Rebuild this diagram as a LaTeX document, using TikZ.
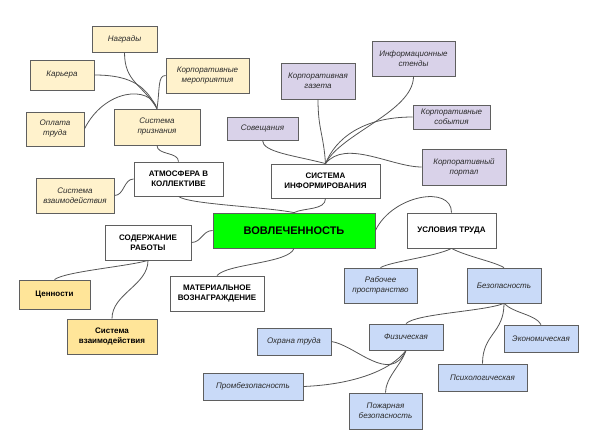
\documentclass[tikz,border=0pt]{standalone}
\usepackage{fontspec}
\setmainfont{Liberation Sans}
\begin{document}
\begin{tikzpicture}[x=1pt,y=-1pt,
  base/.style={draw=bordc, line width=0.8pt, inner sep=0pt, align=center},
  it/.style={base, font=\fontsize{8}{10}\selectfont\itshape, text=txtc},
  ylw/.style={it, fill=ylwc},
  prp/.style={it, fill=prpc},
  blu/.style={it, fill=bluc},
  mainbox/.style={base, fill=white, font=\fontsize{8}{10}\selectfont\bfseries},
  ybold/.style={base, fill=ydarkc, font=\fontsize{8}{10}\selectfont\bfseries},
  conn/.style={draw=linec, line width=0.8pt}
]
\definecolor{bordc}{HTML}{5F5F5F}
\definecolor{linec}{HTML}{555555}
\definecolor{txtc}{HTML}{2A2A2A}
\definecolor{ylwc}{HTML}{FFF2CC}
\definecolor{ydarkc}{HTML}{FFE599}
\definecolor{prpc}{HTML}{D9D2E9}
\definecolor{bluc}{HTML}{C9DAF8}
\definecolor{grnc}{HTML}{00FF00}
\useasboundingbox (0,0) rectangle (591,443);

% yellow (light)
\node[ylw, minimum width=65pt, minimum height=26pt] (nagr) at (124.5,39) {Награды};
\node[ylw, minimum width=64pt, minimum height=30pt] (kar) at (62,75) {Карьера};
\node[ylw, minimum width=83pt, minimum height=35pt] (korpm) at (207.5,75.5) {Корпоративные\\мероприятия};
\node[ylw, minimum width=58pt, minimum height=34pt] (opl) at (55,129) {Оплата\\труда};
\node[ylw, minimum width=86pt, minimum height=36pt] (sysp) at (157,127) {Система\\признания};
\node[ylw, minimum width=78pt, minimum height=35pt] (sysvza) at (75,195.5) {Система\\взаимодействия};

% purple
\node[prp, minimum width=71pt, minimum height=23pt] (sov) at (262.5,128.5) {Совещания};
\node[prp, minimum width=74pt, minimum height=36pt] (gaz) at (318,81) {Корпоративная\\газета};
\node[prp, minimum width=83pt, minimum height=35pt] (sten) at (413.5,58.5) {Информационные\\стенды};
\node[prp, minimum width=77pt, minimum height=24pt] (sob) at (451.5,117) {Корпоративные\\события};
\node[prp, minimum width=84pt, minimum height=36pt] (port) at (464,167) {Корпоративный\\портал};

% main white
\node[mainbox, minimum width=89pt, minimum height=34pt] (atm) at (178.5,179) {АТМОСФЕРА В\\КОЛЛЕКТИВЕ};
\node[mainbox, minimum width=109pt, minimum height=34pt] (sinf) at (325.5,181) {СИСТЕМА\\ИНФОРМИРОВАНИЯ};
\node[mainbox, minimum width=86pt, minimum height=35pt] (sod) at (148,242.5) {СОДЕРЖАНИЕ\\РАБОТЫ};
\node[mainbox, minimum width=94pt, minimum height=35pt] (mat) at (217,293.5) {МАТЕРИАЛЬНОЕ\\ВОЗНАГРАЖДЕНИЕ};
\node[mainbox, minimum width=89pt, minimum height=35pt] (usl) at (451.5,230.5) {УСЛОВИЯ ТРУДА};

% center
\node[base, fill=grnc, minimum width=162pt, minimum height=35pt, font=\fontsize{11}{13}\selectfont\bfseries] (grn) at (294,230.5) {ВОВЛЕЧЕННОСТЬ};

% yellow (dark)
\node[ybold, minimum width=71pt, minimum height=29pt] (cen) at (54.5,294.5) {Ценности};
\node[ybold, minimum width=90pt, minimum height=35pt] (sysvzb) at (112,336.5) {Система\\взаимодействия};

% blue
\node[blu, minimum width=73pt, minimum height=35pt] (rab) at (380.5,285.5) {Рабочее\\пространство};
\node[blu, minimum width=74pt, minimum height=35pt] (bez) at (504,285.5) {Безопасность};
\node[blu, minimum width=74pt, minimum height=26pt] (fiz) at (406,337) {Физическая};
\node[blu, minimum width=74pt, minimum height=27pt] (eko) at (541,338.5) {Экономическая};
\node[blu, minimum width=74pt, minimum height=27pt] (okh) at (294,341.5) {Охрана труда};
\node[blu, minimum width=100pt, minimum height=27pt] (prom) at (253,386.5) {Промбезопасность};
\node[blu, minimum width=89pt, minimum height=27pt] (psi) at (482.5,377.5) {Психологическая};
\node[blu, minimum width=73pt, minimum height=36pt] (pozh) at (385.5,411) {Пожарная\\безопасность};

% connectors to Система признания
\draw[conn] (nagr.south) .. controls +(0,30) and +(-15,-25) .. (sysp.north);
\draw[conn] (kar.east) .. controls +(40,0) and +(-10,-20) .. (sysp.north);
\draw[conn] (korpm.west) .. controls +(-8,0) and +(3,-20) .. (sysp.north);
\draw[conn] (opl.east) .. controls +(20,-40) and +(-7,-24) .. (sysp.north);
\draw[conn] (sysp.south) .. controls +(0,10) and +(0,-10) .. (atm.north);
\draw[conn] (sysvza.east) .. controls +(10,0) and +(-10,0) .. (atm.west);
\draw[conn] (atm.south) .. controls +(10,8) and +(-30,-6) .. (grn.north);

% connectors to Система информирования
\draw[conn] (sov.south) .. controls +(0,12) and +(-30,-8) .. (sinf.north);
\draw[conn] (gaz.south) .. controls +(0,30) and +(-2,-30) .. (sinf.north);
\draw[conn] (sten.south) .. controls +(0,35) and +(15,-30) .. (sinf.north);
\draw[conn] (sob.west) .. controls +(-50,0) and +(10,-25) .. (sinf.north);
\draw[conn] (port.west) .. controls +(-30,0) and +(20,-25) .. (sinf.north);
\draw[conn] (sinf.south) .. controls +(0,12) and +(10,-5) .. (grn.north);

% center connectors
\draw[conn] (grn.east) .. controls +(17,-35.5) and +(0,-28) .. (usl.north);
\draw[conn] (grn.west) .. controls +(-10,0) and +(10,0) .. (sod.east);
\draw[conn] (grn.south) .. controls +(-5,15) and +(10,-12) .. (mat.north);

% Содержание работы
\draw[conn] (sod.south) .. controls +(-20,6) and +(10,-8) .. (cen.north);
\draw[conn] (sod.south) .. controls +(0,25) and +(0,-25) .. (sysvzb.north);

% Условия труда
\draw[conn] (usl.south) .. controls +(-15,8) and +(10,-6) .. (rab.north);
\draw[conn] (usl.south) .. controls +(15,8) and +(-10,-6) .. (bez.north);

% Безопасность
\draw[conn] (bez.south) .. controls +(-20,8) and +(10,-10) .. (fiz.north);
\draw[conn] (bez.south) .. controls +(10,10) and +(-5,-10) .. (eko.north);
\draw[conn] (bez.south) .. controls +(0,30) and +(0,-30) .. (psi.north);

% Физическая
\draw[conn] (okh.east) .. controls +(24,3.5) and +(-16,35) .. (fiz.south);
\draw[conn] (prom.east) .. controls +(50,-2) and +(-15,20) .. (fiz.south);
\draw[conn] (pozh.north) .. controls +(0,-15) and +(-5,15) .. (fiz.south);
\end{tikzpicture}
\end{document}
